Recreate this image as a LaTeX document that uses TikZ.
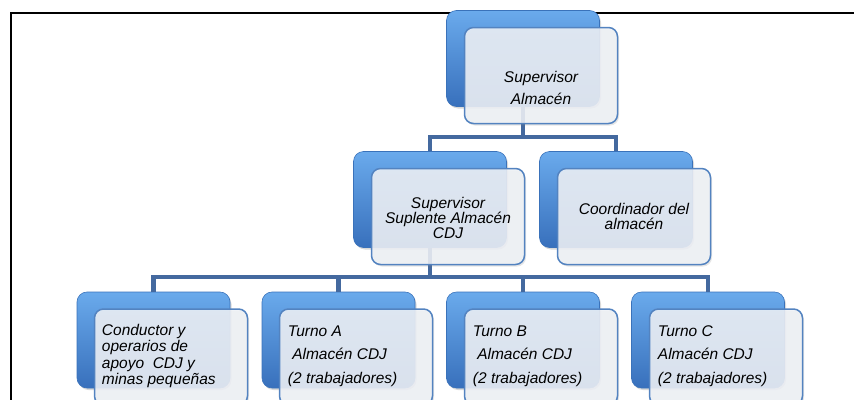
\documentclass[tikz,border=0pt]{standalone}
\usepackage{fontspec}
\setmainfont{Liberation Sans}
\usetikzlibrary{shadows,calc}

\definecolor{conncol}{HTML}{44699F}
\definecolor{backtop}{HTML}{6AAAEC}
\definecolor{backmid}{HTML}{4386D4}
\definecolor{backbot}{HTML}{3870BC}
\definecolor{backedge}{HTML}{3A72BA}
\definecolor{frontfill}{HTML}{EEF1F6}
\definecolor{frontedge}{HTML}{5383C0}

\tikzset{
  backbox/.style={rounded corners=10pt, minimum width=153pt, minimum height=96pt,
    inner sep=0pt, draw=backedge, line width=0.6pt,
    top color=backtop, middle color=backmid, bottom color=backbot,
    drop shadow={shadow xshift=1.5pt, shadow yshift=-2pt, opacity=0.3}},
  frontbox/.style={rounded corners=9pt, minimum width=153pt, minimum height=96pt,
    inner sep=0pt, draw=frontedge, line width=1.5pt,
    fill=frontfill, fill opacity=0.88, draw opacity=1,
    drop shadow={shadow xshift=1.5pt, shadow yshift=-2pt, opacity=0.2}},
  conn/.style={draw=conncol, line width=4.5pt},
  ctext/.style={inner sep=0pt, align=center, font=\itshape\fontsize{15.5}{15}\selectfont},
  ltext/.style={inner sep=0pt, align=left, anchor=west},
}

\begin{document}
\begin{tikzpicture}[x=1pt, y=-1pt]
\useasboundingbox (0,0) rectangle (854,399);
\clip (0,0) rectangle (854,399);

% page frame
\draw[line width=2pt] (11,430) -- (11,12.5) -- (880,12.5);

% junction points of the connector buses
\coordinate (bus1) at (523,137);
\coordinate (bus2) at (430,277);

% back (blue) tiles
\node[backbox] (topbg) at (523,58.5) {};
\node[backbox] (s1bg)  at (430,199.5) {};
\node[backbox] (s2bg)  at (616,199.5) {};
\node[backbox] (c1bg)  at (153.5,340) {};
\node[backbox] (c2bg)  at (338.5,340) {};
\node[backbox] (c3bg)  at (523,340) {};
\node[backbox] (c4bg)  at (708,340) {};

% connectors
\draw[conn] (topbg.south) -- (bus1) -| (s1bg.north);
\draw[conn] (bus1) -| (s2bg.north);
\draw[conn] (s1bg.south) -- (bus2) -| (c1bg.north);
\draw[conn] (bus2) -| (c2bg.north);
\draw[conn] (bus2) -| (c3bg.north);
\draw[conn] (bus2) -| (c4bg.north);

% front (light) tiles
\node[frontbox] (top) at (541,75.5) {};
\node[frontbox] (s1)  at (448,216.5) {};
\node[frontbox] (s2)  at (634,216.5) {};
\node[frontbox] (c1)  at (171,357) {};
\node[frontbox] (c2)  at (356,357) {};
\node[frontbox] (c3)  at (541,357) {};
\node[frontbox] (c4)  at (726,357) {};

% labels
\node[ctext, font=\itshape\fontsize{15.5}{22}\selectfont] (ttop) at (541,87.5)
  {Supervisor\\Almacén};
\node[ctext] (ts1) at (448,217.5) {Supervisor\\Suplente Almacén\\CDJ};
\node[ctext] (ts2) at (634,216) {Coordinador del\\almacén};
\node[ltext, font=\itshape\fontsize{15.5}{16.2}\selectfont] (tc1) at ($(c1.west)+(8,-1)$)
  {Conductor y\\operarios de\\apoyo\ \ CDJ y\\minas pequeñas};
\node[ltext, font=\itshape\fontsize{15.5}{23.5}\selectfont] (tc2) at ($(c2.west)+(9,-1)$)
  {Turno A\\\hspace*{4.3pt}Almacén CDJ\\(2 trabajadores)};
\node[ltext, font=\itshape\fontsize{15.5}{23.5}\selectfont] (tc3) at ($(c3.west)+(9,-1)$)
  {Turno B\\\hspace*{4.3pt}Almacén CDJ\\(2 trabajadores)};
\node[ltext, font=\itshape\fontsize{15.5}{23.5}\selectfont] (tc4) at ($(c4.west)+(9,-1)$)
  {Turno C\\Almacén CDJ\\(2 trabajadores)};
\end{tikzpicture}
\end{document}
